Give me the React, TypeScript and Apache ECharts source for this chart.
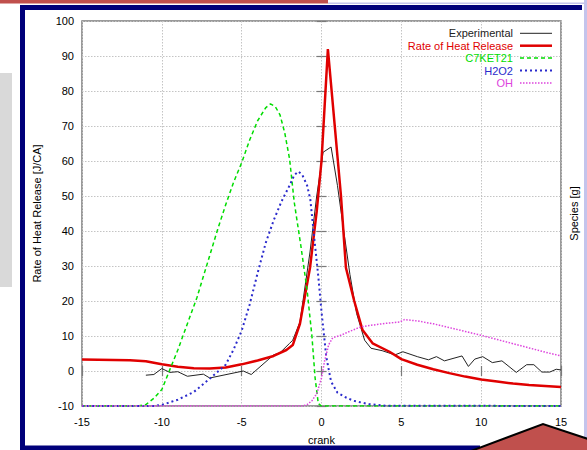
import React, { useEffect, useRef } from "react";
import * as echarts from "echarts";

const seriesNames = ["Experimental", "Rate of Heat Release", "C7KET21", "H2O2", "OH"];

const expX = [-11, -10.5, -10, -9.5, -9, -8.4, -7.4, -7, -4.9, -4.4, -3, -2.6, -2, -1.8, -1.35, -0.72, -0.3, 0.1, 0.6, 1.0, 1.37, 1.78, 2.2, 2.7, 3.1, 3.8, 4.6, 5.1, 6.0, 6.7, 7.2, 7.7, 8.8, 9.2, 9.6, 10.1, 10.7, 11.3, 12.2, 12.85, 13.3, 13.8, 14.3, 14.7, 15];
const expY = [-1.2, -1.0, 0.7, -0.4, -0.2, -1.5, -0.9, -2.0, 0.0, -1.0, 4.6, 5.2, 7.9, 8.8, 14, 34, 50, 62.5, 64, 53, 40.8, 27.6, 16.4, 8.8, 6.5, 5.8, 4.6, 5.5, 4.1, 3.2, 4.1, 2.9, 4.3, 1.3, 3.4, 4.1, 2.4, 2.9, -0.4, 1.8, 1.8, -0.3, -0.3, 0.5, 0.3];

const rhrX = [-15, -12, -11, -10, -9, -8, -7, -6, -5, -4, -3, -2.2, -1.8, -1.35, -0.72, -0.3, 0, 0.4, 0.85, 1.22, 1.53, 2.05, 2.57, 3.2, 4.26, 5, 6, 7, 8, 9, 10, 11, 12, 13, 14, 15];
const rhrY = [3.3, 3.1, 2.8, 1.9, 1.2, 0.8, 0.7, 1.0, 1.9, 3.0, 4.3, 6.0, 7.4, 13.5, 29.5, 45.6, 60, 92, 69, 50, 29.5, 20, 11.7, 7.9, 5.5, 3.4, 1.8, 0.5, -0.6, -1.6, -2.4, -3.0, -3.6, -4.0, -4.3, -4.6];

const c7X = [-15, -11.5, -11, -10.5, -10, -9.5, -9, -8.4, -7.8, -7, -6.5, -6, -5.5, -5, -4.5, -4, -3.5, -3.2, -2.9, -2.6, -2.3, -2, -1.7, -1.3, -0.9, -0.6, -0.4, -0.2, 0, 15];
const c7Y = [-10, -10, -9.6, -7.8, -5.3, 0.4, 6, 13.5, 21, 33, 40.5, 47.5, 54, 59.5, 66, 71.5, 75.2, 76.3, 75.6, 73.2, 68, 60.6, 48, 36, 23, 10, -2, -9.3, -10, -10];

const h2o2X = [-15, -10.5, -10, -9, -8, -7, -6, -5.5, -5, -4.5, -4, -3.5, -3, -2.5, -2, -1.7, -1.45, -1.2, -0.9, -0.7, -0.5, -0.2, 0, 0.3, 0.6, 1, 1.5, 2, 3, 4, 15];
const h2o2Y = [-10, -10, -9.7, -8.2, -6, -2.2, 1.8, 6.2, 11.5, 19, 28, 36.5, 43, 48.5, 53, 56, 57, 56, 53, 49, 40, 27, 17, 4, -3, -6.2, -7.5, -8.5, -9.5, -9.9, -10];

const ohX = [-15, -1.2, -0.9, -0.6, -0.3, 0, 0.2, 0.45, 0.7, 1.2, 1.6, 2.4, 3, 4, 4.9, 5.2, 6, 7, 8, 9, 10, 11, 12, 13, 14, 15];
const ohY = [-10, -10, -9.6, -8.5, -6.5, -2, 3, 7.5, 9.5, 10.2, 11, 12.5, 13, 13.6, 14.0, 14.7, 14.3, 13.5, 12.4, 11.3, 10.2, 9, 7.8, 6.6, 5.4, 4.3];

const zip = (xs: number[], ys: number[]) => xs.map((x, i) => [x, ys[i]]);

const FONT = "'Liberation Sans', Arial, Helvetica, sans-serif";

const styles = [
  { color: "#222222", width: 1, type: "solid" as any },
  { color: "#e00000", width: 2.5, type: "solid" as any },
  { color: "#00dd00", width: 1.5, type: [4, 3] as any },
  { color: "#2a2acc", width: 2, type: [2, 3] as any },
  { color: "#dd44dd", width: 1.5, type: [1.5, 1.5] as any },
];

export default function App() {
  const ref = useRef<HTMLDivElement>(null);
  useEffect(() => {
    const chart = echarts.init(ref.current!, null, { renderer: "svg" });
    const data = [zip(expX, expY), zip(rhrX, rhrY), zip(c7X, c7Y), zip(h2o2X, h2o2Y), zip(ohX, ohY)];

    const legendGraphics: any[] = [];
    seriesNames.forEach((name, i) => {
      const y = 33.3 + i * 12.4;
      legendGraphics.push({
        type: "text",
        x: 513,
        y,
        style: { text: name, fill: styles[i].color, font: `11px ${FONT}`, align: "right", verticalAlign: "middle" },
        z: 10,
      });
      legendGraphics.push({
        type: "line",
        shape: { x1: 520, y1: y, x2: 552, y2: y },
        style: {
          stroke: styles[i].color,
          lineWidth: styles[i].width,
          lineDash: Array.isArray(styles[i].type) ? styles[i].type : null,
        },
        z: 10,
      });
    });

    const tickStyle = { color: "#7a7a7a", width: 1.2 };
    const gridLine = { show: true, lineStyle: { color: "#c4c4c4", type: [1.5, 1.5], width: 1 } };

    const option: any = {
      animation: false,
      backgroundColor: "#ffffff",
      textStyle: { fontFamily: FONT },
      grid: {
        left: 82,
        right: 22,
        top: 21,
        bottom: 40.5,
        show: true,
        borderColor: "#7a7a7a",
        borderWidth: 1.5,
        backgroundColor: "transparent",
      },
      xAxis: [
        {
          type: "value",
          min: -15,
          max: 15,
          interval: 5,
          name: "crank",
          nameLocation: "middle",
          nameGap: 28,
          nameTextStyle: { color: "#000", fontSize: 11, fontFamily: FONT },
          axisLine: { show: false },
          axisTick: { show: true, inside: true, length: 5, lineStyle: tickStyle },
          axisLabel: { color: "#000", fontSize: 11, margin: 10, fontFamily: FONT },
          splitLine: gridLine,
        },
        {
          type: "value",
          position: "top",
          min: -15,
          max: 15,
          interval: 5,
          axisLine: { show: false },
          axisTick: { show: true, inside: true, length: 5, lineStyle: tickStyle },
          axisLabel: { show: false },
          splitLine: { show: false },
        },
      ],
      yAxis: [
        {
          type: "value",
          min: -10,
          max: 100,
          interval: 10,
          name: "Rate of Heat Release [J/CA]",
          nameLocation: "middle",
          nameGap: 40,
          nameRotate: 90,
          nameTextStyle: { color: "#000", fontSize: 11, fontFamily: FONT },
          axisLine: { show: false },
          axisTick: { show: true, inside: true, length: 5, lineStyle: tickStyle },
          axisLabel: { color: "#000", fontSize: 11, margin: 8, fontFamily: FONT },
          splitLine: gridLine,
        },
        {
          type: "value",
          position: "right",
          min: -10,
          max: 100,
          interval: 10,
          name: "Species [g]",
          nameLocation: "middle",
          nameGap: 7,
          nameRotate: 90,
          nameTextStyle: { color: "#000", fontSize: 11, fontFamily: FONT },
          axisLine: { show: false },
          axisTick: { show: true, inside: true, length: 5, lineStyle: tickStyle },
          axisLabel: { show: false },
          splitLine: { show: false },
        },
      ],
      series: seriesNames.map((name, i) => ({
        name,
        type: "line",
        data: data[i],
        showSymbol: false,
        symbol: "none",
        smooth: false,
        lineStyle: { color: styles[i].color, width: styles[i].width, type: styles[i].type },
        itemStyle: { color: styles[i].color },
        z: 2 + i,
      })),
      graphic: [
        { type: "rect", shape: { x: 0, y: 73, width: 12, height: 214 }, style: { fill: "#d9d9d9" }, silent: true },
        { type: "rect", shape: { x: 0, y: 0, width: 328, height: 3.5 }, style: { fill: "#c0504d" }, silent: true },
        { type: "rect", shape: { x: 328, y: 2.5, width: 259, height: 1.5 }, style: { fill: "#c4c4ec" }, silent: true },
        { type: "rect", shape: { x: 584, y: 0, width: 3, height: 450 }, style: { fill: "#c4c4ec" }, silent: true },
        {
          type: "polyline",
          shape: { points: [[582, 7.5], [22.5, 7.5], [22.5, 448], [480, 448]] },
          style: { stroke: "#00007a", lineWidth: 5, fill: null },
          silent: true,
        },
        {
          type: "polygon",
          shape: { points: [[455, 457], [543, 424], [600, 443], [600, 470], [455, 470]] },
          style: { fill: "#c0504d", stroke: "#000", lineWidth: 2 },
          z: 20,
          silent: true,
        },
        ...legendGraphics,
      ],
    };
    chart.setOption(option);
    return () => chart.dispose();
  }, []);
  return (
    <div
      ref={ref}
      style={{ position: "absolute", left: 0, top: 0, width: 587, height: 450, background: "#fff" }}
    />
  );
}
